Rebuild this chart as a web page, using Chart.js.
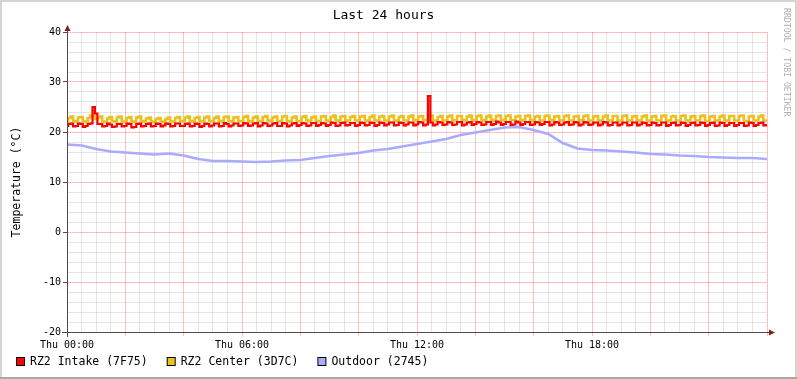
<!DOCTYPE html>
<html>
<head>
<meta charset="utf-8">
<title>Last 24 hours</title>
<script src="https://cdn.jsdelivr.net/npm/chart.js@4/dist/chart.umd.min.js"></script>
<style>
  html, body { margin: 0; padding: 0; background: #ffffff; }
  canvas { display: block; }
</style>
</head>
<body>
<canvas id="graph" width="797" height="379"></canvas>
<script>
// samples every 5 minutes, Thu 00:00 .. Thu 24:00
const sampleMinutes = 5;
const intake = [
  21.2, 21.6, 21.7, 21.1, 21.2, 21.7, 21.6, 21.0, 21.2, 21.6, 21.7, 25.0,
  23.7, 21.6, 21.6, 21.1, 21.2, 21.7, 21.5, 21.0, 21.1, 21.6, 21.6, 21.1,
  21.2, 21.7, 21.6, 20.9, 21.0, 21.6, 21.7, 21.1, 21.2, 21.6, 21.7, 21.1,
  21.2, 21.7, 21.6, 21.1, 21.3, 21.7, 21.6, 21.1, 21.2, 21.7, 21.7, 21.2,
  21.2, 21.6, 21.7, 21.1, 21.2, 21.7, 21.6, 21.0, 21.2, 21.7, 21.6, 21.1,
  21.3, 21.7, 21.7, 21.1, 21.2, 21.8, 21.6, 21.1, 21.3, 21.7, 21.7, 21.2,
  21.3, 21.8, 21.7, 21.2, 21.3, 21.7, 21.8, 21.1, 21.3, 21.8, 21.7, 21.2,
  21.3, 21.7, 21.8, 21.2, 21.2, 21.8, 21.7, 21.1, 21.3, 21.7, 21.8, 21.2,
  21.4, 21.8, 21.7, 21.2, 21.3, 21.8, 21.8, 21.2, 21.4, 21.8, 21.7, 21.2,
  21.4, 21.9, 21.8, 21.2, 21.3, 21.8, 21.9, 21.3, 21.4, 21.8, 21.8, 21.2,
  21.4, 21.9, 21.8, 21.3, 21.4, 21.9, 21.8, 21.2, 21.4, 21.9, 21.8, 21.3,
  21.5, 21.9, 21.9, 21.3, 21.4, 21.9, 21.8, 21.3, 21.5, 21.9, 21.9, 21.3,
  21.5, 22.0, 21.9, 21.3, 21.5, 27.2, 21.9, 21.3, 21.5, 22.0, 21.9, 21.4,
  21.5, 22.0, 21.9, 21.4, 21.5, 22.0, 22.0, 21.3, 21.5, 21.9, 22.0, 21.4,
  21.6, 22.0, 21.9, 21.4, 21.5, 22.0, 22.0, 21.4, 21.6, 22.1, 21.9, 21.4,
  21.6, 22.0, 22.0, 21.4, 21.5, 22.1, 21.9, 21.4, 21.6, 22.0, 22.0, 21.4,
  21.5, 22.0, 21.9, 21.4, 21.6, 22.0, 22.0, 21.3, 21.5, 22.0, 21.9, 21.4,
  21.5, 21.9, 22.0, 21.4, 21.5, 22.0, 21.9, 21.3, 21.5, 22.0, 21.9, 21.4,
  21.5, 21.9, 21.9, 21.3, 21.5, 22.0, 21.9, 21.3, 21.4, 21.9, 21.9, 21.3,
  21.5, 21.9, 21.9, 21.3, 21.4, 21.9, 21.9, 21.3, 21.5, 21.9, 21.8, 21.3,
  21.4, 21.9, 21.8, 21.3, 21.4, 21.9, 21.9, 21.2, 21.4, 21.8, 21.9, 21.3,
  21.4, 21.9, 21.8, 21.2, 21.4, 21.8, 21.9, 21.3, 21.4, 21.9, 21.8, 21.2,
  21.4, 21.8, 21.9, 21.2, 21.3, 21.9, 21.8, 21.2, 21.4, 21.8, 21.8, 21.2,
  21.4, 21.8, 21.8, 21.2, 21.3, 21.9, 21.8, 21.2, 21.4, 21.8, 21.9, 21.3,
  21.4
];
const center = [
  22.0, 22.8, 23.1, 22.2, 22.1, 22.9, 23.0, 22.1, 22.0, 22.8, 23.3, 23.2,
  22.6, 22.9, 23.1, 22.1, 22.0, 22.7, 23.0, 22.2, 22.1, 22.9, 23.1, 22.0,
  22.1, 22.8, 23.0, 22.1, 22.0, 22.9, 23.1, 22.2, 22.1, 22.7, 22.9, 22.0,
  22.1, 22.6, 22.8, 22.1, 22.0, 22.6, 22.9, 22.1, 22.1, 22.8, 23.0, 22.2,
  22.1, 22.9, 23.1, 22.2, 22.1, 22.8, 23.0, 22.1, 22.2, 22.9, 23.1, 22.2,
  22.1, 22.8, 23.1, 22.1, 22.2, 23.0, 23.1, 22.2, 22.1, 22.9, 23.0, 22.2,
  22.2, 23.0, 23.2, 22.2, 22.1, 22.9, 23.1, 22.2, 22.2, 23.0, 23.2, 22.3,
  22.2, 22.9, 23.1, 22.2, 22.2, 23.1, 23.2, 22.2, 22.1, 22.9, 23.1, 22.2,
  22.2, 23.0, 23.2, 22.3, 22.2, 22.9, 23.1, 22.2, 22.2, 23.1, 23.2, 22.3,
  22.2, 23.0, 23.3, 22.3, 22.2, 23.1, 23.2, 22.2, 22.3, 23.0, 23.2, 22.3,
  22.3, 23.1, 23.2, 22.3, 22.2, 23.0, 23.3, 22.3, 22.2, 23.1, 23.2, 22.3,
  22.3, 23.1, 23.3, 22.3, 22.2, 23.0, 23.2, 22.3, 22.3, 23.1, 23.3, 22.4,
  22.3, 23.1, 23.2, 22.3, 22.4, 23.2, 23.3, 22.3, 22.3, 23.0, 23.2, 22.3,
  22.3, 23.1, 23.3, 22.4, 22.3, 23.2, 23.2, 22.3, 22.4, 23.1, 23.3, 22.3,
  22.4, 23.2, 23.3, 22.4, 22.3, 23.1, 23.3, 22.4, 22.3, 23.2, 23.3, 22.4,
  22.3, 23.2, 23.3, 22.4, 22.4, 23.1, 23.2, 22.3, 22.4, 23.2, 23.3, 22.4,
  22.3, 23.1, 23.2, 22.3, 22.3, 23.2, 23.3, 22.4, 22.3, 23.1, 23.2, 22.3,
  22.3, 23.2, 23.3, 22.3, 22.3, 23.1, 23.2, 22.3, 22.4, 23.2, 23.3, 22.3,
  22.3, 23.1, 23.2, 22.3, 22.2, 23.1, 23.3, 22.3, 22.3, 23.2, 23.2, 22.3,
  22.3, 23.2, 23.3, 22.3, 22.3, 23.1, 23.2, 22.3, 22.2, 23.1, 23.3, 22.3,
  22.2, 23.1, 23.2, 22.3, 22.3, 23.2, 23.3, 22.2, 22.3, 23.1, 23.2, 22.3,
  22.3, 23.2, 23.3, 22.3, 22.2, 23.1, 23.2, 22.3, 22.3, 23.2, 23.3, 22.2,
  22.2, 23.1, 23.2, 22.3, 22.3, 23.1, 23.3, 22.3, 22.2, 23.2, 23.2, 22.3,
  22.3, 23.2, 23.3, 22.2, 22.2, 23.1, 23.2, 22.3, 22.3, 23.1, 23.3, 22.3,
  22.3
];
// outdoor sensor, every 30 minutes
const outdoorMinutes = 30;
const outdoor = [
  17.5, 17.3, 16.6, 16.1, 15.9, 15.7, 15.5, 15.7, 15.3, 14.6, 14.2, 14.2,
  14.1, 14.0, 14.1, 14.3, 14.4, 14.8, 15.2, 15.5, 15.8, 16.3, 16.6, 17.1,
  17.6, 18.1, 18.6, 19.4, 19.9, 20.4, 20.9, 21.0, 20.4, 19.6, 17.8, 16.7,
  16.4, 16.3, 16.1, 15.9, 15.6, 15.5, 15.3, 15.2, 15.0, 14.9, 14.8, 14.8,
  14.6
];

const xTickLabels = ['Thu 00:00', 'Thu 06:00', 'Thu 12:00', 'Thu 18:00'];
const seriesNames = ['RZ2 Intake (7F75)', 'RZ2 Center (3D7C)', 'Outdoor (2745)'];

const mono = "'DejaVu Sans Mono', monospace";
const axisColor = '#554848';
const arrowColor = '#7f1f1f';
const majorGrid = 'rgba(255, 0, 0, 0.25)';
const minorGrid = 'rgba(150, 150, 150, 0.25)';

function toPoints(values, minutes) {
  return values.map((v, i) => ({ x: i * minutes / 60, y: v }));
}

const rrdDecor = {
  id: 'rrdDecor',
  beforeDraw(chart) {
    const ctx = chart.ctx;
    ctx.save();
    ctx.fillStyle = '#ffffff';
    ctx.fillRect(0, 0, chart.width, chart.height);
    ctx.restore();
  },
  afterDatasetsDraw(chart) {
    const { ctx, chartArea: a } = chart;
    ctx.save();
    ctx.strokeStyle = axisColor;
    ctx.lineWidth = 1;
    ctx.beginPath();
    ctx.moveTo(a.left - 5, a.bottom + 0.5);
    ctx.lineTo(a.right + 4, a.bottom + 0.5);
    ctx.moveTo(a.left + 0.5, a.bottom + 5);
    ctx.lineTo(a.left + 0.5, a.top - 3);
    ctx.stroke();
    ctx.fillStyle = arrowColor;
    ctx.beginPath();
    ctx.moveTo(a.left + 0.5, a.top - 7);
    ctx.lineTo(a.left - 2.5, a.top - 1);
    ctx.lineTo(a.left + 3.5, a.top - 1);
    ctx.closePath();
    ctx.fill();
    ctx.beginPath();
    ctx.moveTo(a.right + 8, a.bottom + 0.5);
    ctx.lineTo(a.right + 2, a.bottom - 2.5);
    ctx.lineTo(a.right + 2, a.bottom + 3.5);
    ctx.closePath();
    ctx.fill();
    ctx.restore();
  },
  afterDraw(chart) {
    const ctx = chart.ctx;
    ctx.save();
    // legend
    ctx.font = '11.5px ' + mono;
    ctx.textBaseline = 'middle';
    ctx.textAlign = 'left';
    let x = 16;
    chart.data.datasets.forEach(ds => {
      ctx.fillStyle = '#000000';
      ctx.fillRect(x, 357, 9, 9);
      ctx.fillStyle = ds.borderColor;
      ctx.fillRect(x + 1, 358, 7, 7);
      ctx.fillStyle = '#000000';
      ctx.fillText(ds.label, x + 14, 362);
      x += 14 + ctx.measureText(ds.label).width + 19;
    });
    // watermark
    ctx.font = '8.2px ' + mono;
    ctx.fillStyle = '#b0b0b0';
    ctx.translate(786.5, 8);
    ctx.rotate(Math.PI / 2);
    ctx.fillText('RRDTOOL / TOBI OETIKER', 0, 0);
    ctx.restore();
    // frame
    ctx.save();
    ctx.fillStyle = '#d4d4d4';
    ctx.fillRect(0, 0, chart.width, 2);
    ctx.fillRect(0, 0, 2, chart.height);
    ctx.fillRect(chart.width - 2, 0, 2, chart.height);
    ctx.fillStyle = '#a8a8a8';
    ctx.fillRect(0, chart.height - 2, chart.width, 2);
    ctx.restore();
  }
};

new Chart(document.getElementById('graph'), {
  type: 'line',
  data: {
    datasets: [
      { label: seriesNames[0], data: toPoints(intake, sampleMinutes), borderColor: '#ff0000', borderWidth: 2.2, stepped: 'middle' },
      { label: seriesNames[1], data: toPoints(center, sampleMinutes), borderColor: '#eac11e', borderWidth: 2.6, stepped: 'middle' },
      { label: seriesNames[2], data: toPoints(outdoor, outdoorMinutes), borderColor: '#aaaaff', borderWidth: 2.5 }
    ]
  },
  options: {
    responsive: false,
    animation: false,
    devicePixelRatio: 1,
    elements: {
      point: { radius: 0 },
      line: { tension: 0, fill: false }
    },
    layout: { padding: { left: 0, right: 30, top: 0, bottom: 27 } },
    plugins: {
      legend: { display: false },
      tooltip: { enabled: false },
      title: {
        display: true,
        text: 'Last 24 hours',
        color: '#000000',
        font: { family: mono, size: 13, weight: 'normal', lineHeight: 1.2 },
        padding: { top: 8, bottom: 8.4 }
      }
    },
    scales: {
      x: {
        type: 'linear',
        min: 0,
        max: 24,
        afterFit(scale) { scale.height = 20; },
        border: { display: false },
        grid: {
          color: ctx => ctx.tick.value % 2 === 0 ? majorGrid : minorGrid,
          tickColor: ctx => ctx.tick.value % 2 === 0 ? majorGrid : 'rgba(0,0,0,0)',
          tickLength: 4
        },
        ticks: {
          stepSize: 0.5,
          autoSkip: false,
          maxRotation: 0,
          padding: 3,
          color: '#000000',
          font: { family: mono, size: 10 },
          callback: v => (v % 6 === 0 && v < 24) ? xTickLabels[v / 6] : ''
        }
      },
      y: {
        min: -20,
        max: 40,
        afterFit(scale) { scale.width = 67; },
        border: { display: false },
        grid: {
          color: ctx => ctx.tick.value % 10 === 0 ? majorGrid : minorGrid,
          tickColor: ctx => ctx.tick.value % 10 === 0 ? axisColor : 'rgba(0,0,0,0)',
          tickLength: 4
        },
        ticks: {
          stepSize: 2,
          autoSkip: false,
          padding: 2,
          color: '#000000',
          font: { family: mono, size: 10 },
          callback: v => v % 10 === 0 ? String(v) : ''
        },
        title: {
          display: true,
          text: 'Temperature (°C)',
          color: '#000000',
          font: { family: mono, size: 11.5, lineHeight: 1.2 },
          padding: { top: 10, bottom: 0 }
        }
      }
    }
  },
  plugins: [rrdDecor]
});
</script>
</body>
</html>
